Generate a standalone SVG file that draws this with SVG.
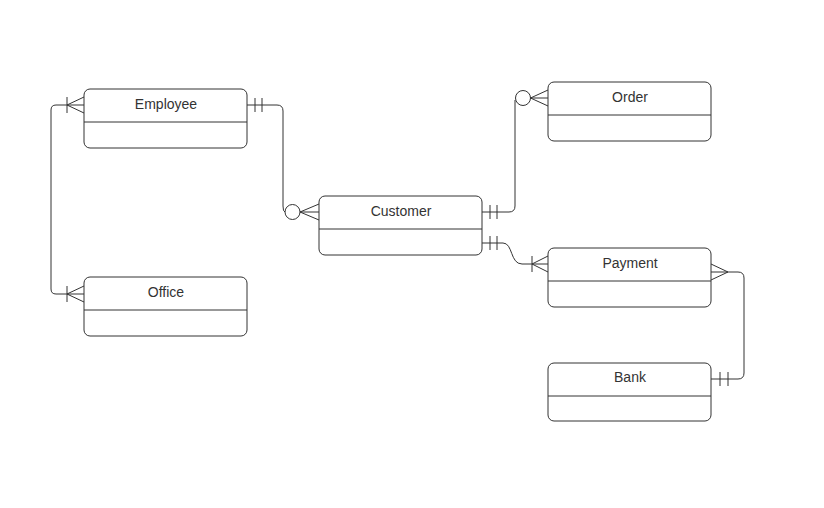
<svg xmlns="http://www.w3.org/2000/svg" width="824" height="508" viewBox="0 0 824 508">
<style>
.box{fill:#fff;stroke:#333;stroke-width:1}
.div{stroke:#333;stroke-width:1}
.lbl{font-family:"Liberation Sans",Arial,sans-serif;font-size:14px;fill:#333;text-anchor:middle}
.c{fill:none;stroke:#333;stroke-width:1}
.o{fill:#fff;stroke:#333;stroke-width:1}
</style>
<rect width="824" height="508" fill="#fff"/>
<g id="connectors">
  <!-- Employee - Office -->
  <path class="c" d="M84,105 H56 Q51,105 51,110 V289 Q51,294 56,294 H84"/>
  <path class="c" d="M84,97 L67,105 L84,113 M67,97 V113"/>
  <path class="c" d="M84,286 L67,294 L84,302 M67,286 V302"/>
  <!-- Employee - Customer -->
  <path class="c" d="M247,105 H277 Q283,105 283,111 V206 Q283,212 285,212"/>
  <path class="c" d="M255,98 V112 M262,98 V112"/>
  <circle class="o" cx="292.5" cy="212" r="7.5"/>
  <path class="c" d="M319,204 L300,212 L319,220 M300,212 H319"/>
  <!-- Customer - Order -->
  <path class="c" d="M482,212 H509 Q515,212 515,206 V100"/>
  <path class="c" d="M490,205 V219 M497,205 V219"/>
  <circle class="o" cx="523" cy="98" r="7.5"/>
  <path class="c" d="M548,90 L530.5,98 L548,106 M530.5,98 H548"/>
  <!-- Customer - Payment -->
  <path class="c" d="M482,243 H503 C513,243 510,264 522,264 H548"/>
  <path class="c" d="M490,236 V250 M497,236 V250"/>
  <path class="c" d="M548,256 L532,264 L548,272 M532,256 V272"/>
  <!-- Payment - Bank -->
  <path class="c" d="M711,272 H738 Q744,272 744,278 V373 Q744,379 738,379 H711"/>
  <path class="c" d="M711,264 L728,272 L711,280"/>
  <path class="c" d="M720,372 V386 M728,372 V386"/>
</g>
<g id="employee">
  <rect class="box" x="84" y="89" width="163" height="59" rx="6"/>
  <line class="div" x1="84" y1="122" x2="247" y2="122"/>
  <text class="lbl" x="166" y="109">Employee</text>
</g>
<g id="office">
  <rect class="box" x="84" y="277" width="163" height="59" rx="6"/>
  <line class="div" x1="84" y1="310" x2="247" y2="310"/>
  <text class="lbl" x="166" y="297">Office</text>
</g>
<g id="customer">
  <rect class="box" x="319" y="196" width="163" height="59" rx="6"/>
  <line class="div" x1="319" y1="229" x2="482" y2="229"/>
  <text class="lbl" x="401" y="216">Customer</text>
</g>
<g id="order">
  <rect class="box" x="548" y="82" width="163" height="59" rx="6"/>
  <line class="div" x1="548" y1="115" x2="711" y2="115"/>
  <text class="lbl" x="630" y="102">Order</text>
</g>
<g id="payment">
  <rect class="box" x="548" y="248" width="163" height="59" rx="6"/>
  <line class="div" x1="548" y1="281" x2="711" y2="281"/>
  <text class="lbl" x="630" y="268">Payment</text>
</g>
<g id="bank">
  <rect class="box" x="548" y="363" width="163" height="58" rx="6"/>
  <line class="div" x1="548" y1="396" x2="711" y2="396"/>
  <text class="lbl" x="630" y="382">Bank</text>
</g>
</svg>
